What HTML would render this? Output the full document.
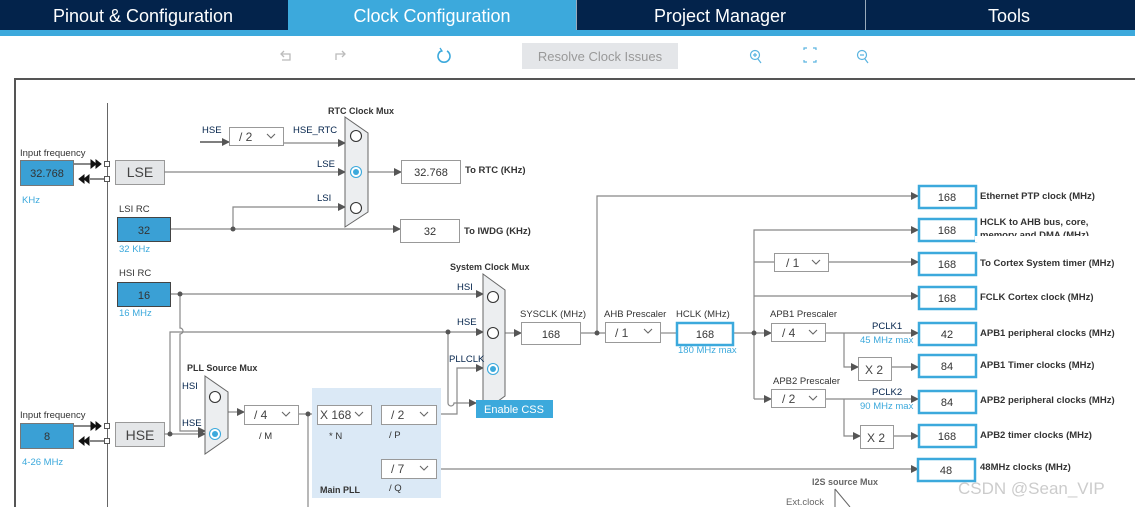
<!DOCTYPE html>
<html><head><meta charset="utf-8"><style>
html,body{margin:0;padding:0;background:#fff;}
svg{display:block;font-family:"Liberation Sans",Arial,sans-serif;}
</style></head><body>
<svg width="1135" height="507" viewBox="0 0 1135 507" xmlns="http://www.w3.org/2000/svg">
<defs>
<marker id="a" markerWidth="8" markerHeight="8" refX="7" refY="4" orient="auto" markerUnits="userSpaceOnUse"><path d="M0,0 L8,4 L0,8z" fill="#555"/></marker>
</defs>
<rect x="0" y="0" width="1135" height="30" fill="#03234b"/>
<rect x="0" y="30" width="1135" height="6" fill="#3ca9dc"/>
<rect x="288" y="0" width="288" height="30" fill="#3ca9dc"/>
<line x1="576.5" y1="0" x2="576.5" y2="30" stroke="#9ab"/>
<line x1="865.5" y1="0" x2="865.5" y2="30" stroke="#9ab"/>
<g fill="#fff" font-size="18" text-anchor="middle">
<text x="143" y="22">Pinout &amp; Configuration</text>
<text x="432" y="22">Clock Configuration</text>
<text x="720" y="22">Project Manager</text>
<text x="1009" y="22">Tools</text>
</g>
<g fill="none" stroke="#bbb" stroke-width="1.3">
<path d="M282,54 h8 v6 h-8"/><path d="M284,51 l-3,3 3,3"/>
<path d="M344,54 h-8 v6"/><path d="M342,51 l3,3 -3,3"/>
</g>
<path d="M441,51 a6,6 0 1 0 6,0" fill="none" stroke="#3ca9dc" stroke-width="1.6"/>
<path d="M440,48 l2,3 -3,1" fill="none" stroke="#3ca9dc" stroke-width="1.3"/>
<rect x="522" y="43" width="156" height="26" fill="#e4e6e9"/>
<text x="600" y="61" font-size="13" fill="#999" text-anchor="middle">Resolve Clock Issues</text>
<g fill="none" stroke="#5ab4e0" stroke-width="1.2">
<circle cx="755" cy="55" r="4.5"/><path d="M758,59 l3,4 M753,55 h4 M755,53 v4"/>
<path d="M804,50 v-2 h3 M813,48 h3 v2 M816,60 v2 h-3 M807,62 h-3 v-2"/>
<circle cx="862" cy="55" r="4.5"/><path d="M865,59 l3,4 M860,55 h4"/>
</g>
<path d="M15,507 V79 H1135" fill="none" stroke="#555" stroke-width="2"/>
<line x1="107.5" y1="103" x2="107.5" y2="507" stroke="#666"/>

<g font-size="10" fill="#333">
<text x="20" y="156" font-size="9.5">Input frequency</text>
<rect x="20.5" y="160.5" width="53" height="25" fill="#3aa0d5" stroke="#777"/>
<text x="47" y="177" text-anchor="middle" font-size="11" fill="#333">32.768</text>
<text x="22" y="203" font-size="9.5" fill="#3ca9dc">KHz</text>
<text x="20" y="418" font-size="9.5">Input frequency</text>
<rect x="20.5" y="423.5" width="53" height="25" fill="#3aa0d5" stroke="#777"/>
<text x="47" y="440" text-anchor="middle" font-size="11">8</text>
<text x="22" y="465" font-size="9.5" fill="#3ca9dc">4-26 MHz</text>
</g>
<g fill="#111" stroke="#111">
<line x1="74" y1="164" x2="92" y2="164"/><path d="M91,160 l5,4 -5,4z M96,160 l5,4 -5,4z"/>
<line x1="90" y1="179" x2="104" y2="179"/><path d="M84,179 l5,-4 v8z M79,179 l5,-4 v8z"/>
<line x1="74" y1="426" x2="92" y2="426"/><path d="M91,422 l5,4 -5,4z M96,422 l5,4 -5,4z"/>
<line x1="90" y1="441" x2="104" y2="441"/><path d="M84,441 l5,-4 v8z M79,441 l5,-4 v8z"/>
</g>
<g fill="#fff" stroke="#555">
<rect x="104.5" y="161.5" width="5" height="5"/><rect x="104.5" y="176.5" width="5" height="5"/>
<rect x="104.5" y="423.5" width="5" height="5"/><rect x="104.5" y="438.5" width="5" height="5"/>
</g>
<g font-size="14" fill="#444" text-anchor="middle">
<rect x="115.5" y="160.5" width="49" height="24" fill="#e4e6e8" stroke="#999"/><text x="140" y="177">LSE</text>
<rect x="115.5" y="422.5" width="49" height="24" fill="#e4e6e8" stroke="#999"/><text x="140" y="440">HSE</text>
</g>

<g fill="none" stroke="#888" stroke-width="1.2">
<line x1="164" y1="172" x2="345" y2="172" marker-end="url(#a)"/>
<line x1="200" y1="142" x2="229" y2="142" stroke="#333" marker-end="url(#a)"/>
<line x1="283" y1="143" x2="345" y2="143" marker-end="url(#a)"/>
<path d="M233,229 V207 H345" marker-end="url(#a)"/>
<line x1="171" y1="229" x2="400" y2="229" marker-end="url(#a)"/>
<line x1="368" y1="172" x2="401" y2="172" marker-end="url(#a)"/>
<line x1="171" y1="294" x2="483" y2="294" marker-end="url(#a)"/>
<path d="M180,294 V328 a3,3 0 0 1 0,6 V431 H205" marker-end="url(#a)"/>
<path d="M170,434 V332 H483" marker-end="url(#a)"/>
<line x1="164" y1="434" x2="205" y2="434" marker-end="url(#a)"/>
<path d="M448,332 V403 a3,3 0 0 0 6,0 H476" marker-end="url(#a)"/>
<path d="M436,414 H457 V368 H483" marker-end="url(#a)"/>
<line x1="495" y1="400" x2="495" y2="388" marker-end="url(#a)"/>
<line x1="228" y1="412" x2="244" y2="412" marker-end="url(#a)"/>
<line x1="298" y1="414" x2="317" y2="414"/>
<line x1="308" y1="414" x2="308" y2="507"/>
<path d="M371,414 H381 M376,414 V469 H381"/>
<line x1="436" y1="469" x2="918" y2="469" marker-end="url(#a)"/>
<line x1="505" y1="333" x2="521" y2="333" marker-end="url(#a)"/>
<line x1="580" y1="333" x2="605" y2="333"/>
<path d="M597,333 V196 H918" marker-end="url(#a)"/>
<line x1="660" y1="333" x2="676" y2="333"/>
<line x1="733" y1="333" x2="771" y2="333" marker-end="url(#a)"/>
<path d="M754,399 V230 H918" marker-end="url(#a)"/>
<line x1="754" y1="262" x2="775" y2="262"/>
<line x1="829" y1="262" x2="918" y2="262" marker-end="url(#a)"/>
<line x1="754" y1="296" x2="918" y2="296" marker-end="url(#a)"/>
<line x1="754" y1="399" x2="771" y2="399" marker-end="url(#a)"/>
<line x1="825" y1="333" x2="918" y2="333" marker-end="url(#a)"/>
<path d="M844,333 V367 H858" marker-end="url(#a)"/>
<line x1="891" y1="367" x2="918" y2="367" marker-end="url(#a)"/>
<line x1="825" y1="399" x2="918" y2="399" marker-end="url(#a)"/>
<path d="M844,399 V436 H860" marker-end="url(#a)"/>
<line x1="893" y1="436" x2="918" y2="436" marker-end="url(#a)"/>
</g>
<g fill="#555">
<circle cx="233" cy="229" r="2.5"/><circle cx="180" cy="294" r="2.5"/><circle cx="170" cy="434" r="2.5"/>
<circle cx="448" cy="332" r="2.5"/><circle cx="308" cy="414" r="2.5"/><circle cx="597" cy="333" r="2.5"/>
<circle cx="754" cy="333" r="2.5"/>
</g>

<rect x="312" y="388" width="129" height="110" fill="#dbe9f6"/>

<g fill="#eceef0" stroke="#666">
<path d="M345,117 L368,133 V212 L345,227z"/>
<path d="M483,274 L505,290 V396 L483,412z"/>
<path d="M205,376 L228,392 V438 L205,454z"/>
</g>
<g fill="#fff" stroke="#333" stroke-width="1.1">
<circle cx="356" cy="136" r="5.5"/><circle cx="356" cy="208" r="5.5"/>
<circle cx="493" cy="297" r="5.5"/><circle cx="493" cy="333" r="5.5"/>
<circle cx="215" cy="397" r="5.5"/>
</g>
<g fill="#fff" stroke="#3ca9dc" stroke-width="1.1">
<circle cx="356" cy="172" r="5.5"/><circle cx="493" cy="369" r="5.5"/><circle cx="215" cy="434" r="5.5"/>
</g>
<g fill="#3ca9dc"><circle cx="356" cy="172" r="3"/><circle cx="493" cy="369" r="3"/><circle cx="215" cy="434" r="3"/></g>

<g font-size="11" text-anchor="middle" fill="#333">
<rect x="117.5" y="217.5" width="53" height="24" fill="#3aa0d5" stroke="#444"/><text x="144" y="234">32</text>
<rect x="117.5" y="282.5" width="53" height="24" fill="#3aa0d5" stroke="#444"/><text x="144" y="299">16</text>
</g>
<g fill="#fff" stroke="#999">
<rect x="229.5" y="127.5" width="54" height="18"/>
<rect x="401.5" y="160.5" width="59" height="23"/>
<rect x="400.5" y="219.5" width="59" height="23"/>
<rect x="521.5" y="322.5" width="59" height="22"/>
<rect x="605.5" y="322.5" width="55" height="20"/>
<rect x="244.5" y="405.5" width="54" height="19"/>
<rect x="317.5" y="405.5" width="54" height="19"/>
<rect x="381.5" y="405.5" width="55" height="19"/>
<rect x="381.5" y="459.5" width="55" height="19"/>
<rect x="774.5" y="253.5" width="54" height="18"/>
<rect x="771.5" y="323.5" width="54" height="18"/>
<rect x="771.5" y="389.5" width="54" height="18"/>
<rect x="858.5" y="357.5" width="33" height="23"/>
<rect x="860.5" y="425.5" width="33" height="23"/>
</g>
<g fill="none" stroke="#666" stroke-width="1.1">
<path d="M267,134 l4,4 4,-4"/><path d="M644,329 l4,4 4,-4"/><path d="M282,412 l4,4 4,-4"/>
<path d="M355,412 l4,4 4,-4"/><path d="M420,412 l4,4 4,-4"/><path d="M420,466 l4,4 4,-4"/>
<path d="M812,260 l4,4 4,-4"/><path d="M809,330 l4,4 4,-4"/><path d="M809,396 l4,4 4,-4"/>
</g>
<g font-size="12" fill="#444">
<text x="239" y="141">/ 2</text><text x="615" y="337">/ 1</text><text x="254" y="419">/ 4</text>
<text x="320" y="419">X 168</text><text x="391" y="419">/ 2</text><text x="391" y="473">/ 7</text>
<text x="786" y="267">/ 1</text><text x="782" y="337">/ 4</text><text x="782" y="403">/ 2</text>
<text x="865" y="374">X 2</text><text x="867" y="442">X 2</text>
</g>
<g font-size="11" fill="#333" text-anchor="middle">
<text x="431" y="176">32.768</text><text x="430" y="235">32</text><text x="551" y="338">168</text>
</g>
<rect x="677" y="323" width="56" height="22" fill="#fff" stroke="#3ca9dc" stroke-width="2.5"/>
<text x="705" y="338" font-size="11" text-anchor="middle" fill="#333">168</text>
<g fill="#fff" stroke="#3ca9dc" stroke-width="2.5">
<rect x="919" y="186" width="57" height="22"/><rect x="919" y="219" width="57" height="22"/>
<rect x="919" y="253" width="57" height="22"/><rect x="919" y="287" width="57" height="22"/>
<rect x="919" y="323" width="57" height="22"/><rect x="919" y="355" width="57" height="22"/>
<rect x="919" y="391" width="57" height="22"/><rect x="919" y="425" width="57" height="22"/>
<rect x="918" y="459" width="57" height="22"/>
</g>
<g font-size="11" fill="#333" text-anchor="middle">
<text x="947" y="201">168</text><text x="947" y="234">168</text><text x="947" y="268">168</text><text x="947" y="302">168</text>
<text x="947" y="338">42</text><text x="947" y="370">84</text><text x="947" y="406">84</text><text x="947" y="440">168</text><text x="946" y="474">48</text>
</g>
<g font-size="9.5" fill="#333" font-weight="bold">
<text x="980" y="199">Ethernet PTP clock (MHz)</text>
<text x="980" y="225">HCLK to AHB bus, core,</text>
<text x="980" y="238">memory and DMA (MHz)</text>
<text x="980" y="266">To Cortex System timer (MHz)</text>
<text x="980" y="300">FCLK Cortex clock (MHz)</text>
<text x="980" y="336">APB1 peripheral clocks (MHz)</text>
<text x="980" y="368">APB1 Timer clocks (MHz)</text>
<text x="980" y="403">APB2 peripheral clocks (MHz)</text>
<text x="980" y="438">APB2 timer clocks (MHz)</text>
<text x="980" y="470">48MHz clocks (MHz)</text>
<text x="465" y="173">To RTC (KHz)</text>
<text x="464" y="234">To IWDG (KHz)</text>
<text x="328" y="114" font-size="9">RTC Clock Mux</text>
<text x="450" y="270" font-size="9">System Clock Mux</text>
<text x="187" y="371" font-size="9">PLL Source Mux</text>
<text x="320" y="493" font-size="9">Main PLL</text>
<text x="812" y="485" font-size="9" fill="#666">I2S source Mux</text>
</g>
<rect x="975" y="236" width="140" height="6" fill="#fff"/>
<g font-size="9.5" fill="#333">
<text x="119" y="212">LSI RC</text><text x="119" y="276">HSI RC</text>
<text x="119" y="252" fill="#3ca9dc">32 KHz</text><text x="119" y="316" fill="#3ca9dc">16 MHz</text>
<text x="520" y="317">SYSCLK (MHz)</text><text x="604" y="317">AHB Prescaler</text><text x="676" y="317">HCLK (MHz)</text>
<text x="678" y="353" fill="#3ca9dc">180 MHz max</text>
<text x="770" y="317">APB1 Prescaler</text><text x="773" y="384">APB2 Prescaler</text>
<text x="860" y="343" fill="#3ca9dc">45 MHz max</text><text x="860" y="409" fill="#3ca9dc">90 MHz max</text>
<text x="259" y="439">/ M</text><text x="329" y="439">* N</text><text x="389" y="438">/ P</text><text x="389" y="491">/ Q</text>
<text x="786" y="505" fill="#666">Ext.clock</text>
</g>
<g font-size="9.5" fill="#03234b">
<text x="202" y="133">HSE</text><text x="293" y="133">HSE_RTC</text><text x="317" y="167">LSE</text><text x="317" y="201">LSI</text>
<text x="457" y="290">HSI</text><text x="457" y="325">HSE</text><text x="449" y="362">PLLCLK</text>
<text x="182" y="389">HSI</text><text x="182" y="426">HSE</text>
<text x="872" y="329">PCLK1</text><text x="872" y="395">PCLK2</text>
</g>
<rect x="476" y="400" width="77" height="18" fill="#3ca9dc"/>
<text x="514" y="413" font-size="11" fill="#fff" text-anchor="middle">Enable CSS</text>
<path d="M835,489 L850,507" stroke="#666" fill="none"/>
<line x1="835" y1="489" x2="835" y2="507" stroke="#666"/>
<text x="958" y="494" font-size="17" fill="#ccc">CSDN @Sean_VIP</text>
</svg>
</body></html>
